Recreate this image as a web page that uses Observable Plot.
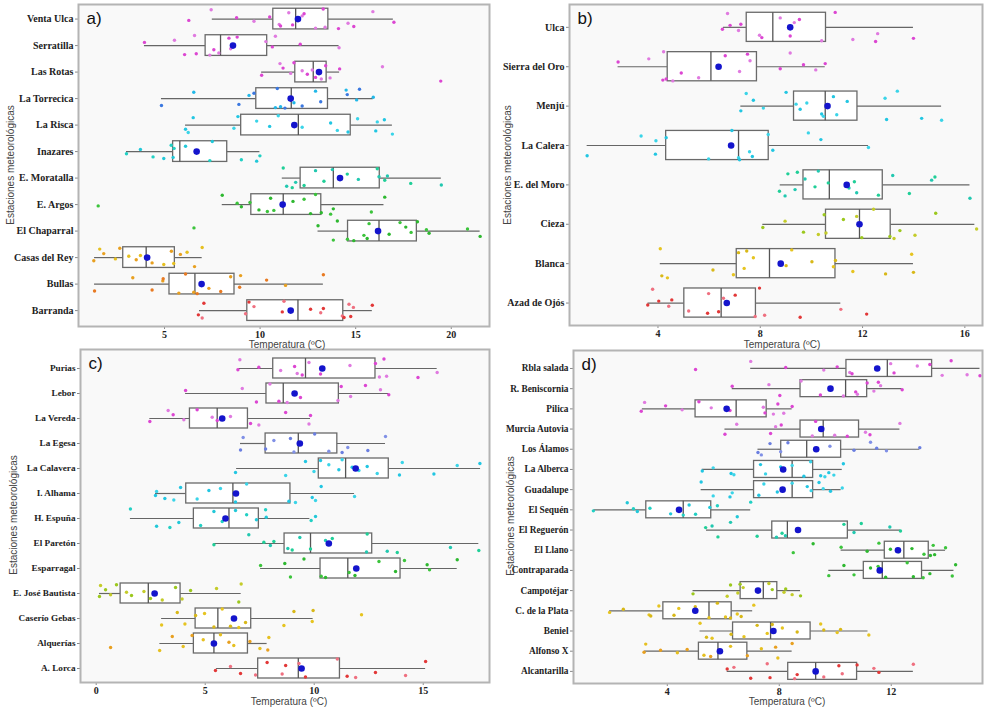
<!DOCTYPE html>
<html>
<head>
<meta charset="utf-8">
<script src="https://cdn.jsdelivr.net/npm/d3@7"></script>
<script src="https://cdn.jsdelivr.net/npm/@observablehq/plot@0.6"></script>
<style>
  html, body { margin: 0; padding: 0; background: #fff; }
  #wrap { position: relative; width: 985px; height: 709px; overflow: hidden; background: #fff; }
  .pnl { position: absolute; }
  .xt { position: absolute; font-family: "Liberation Sans", Arial, sans-serif; font-size: 10px; line-height: 10px; color: #444; transform: translate(-50%, -50%); white-space: nowrap; }
  .yt { position: absolute; font-family: "Liberation Sans", Arial, sans-serif; font-size: 10px; color: #444; transform: translate(-50%, -50%) rotate(-90deg); white-space: nowrap; }
</style>
</head>
<body>
<div id="wrap"></div>
<script>
// ---------------- DATA ----------------
// Panel a
const stationsA = ["Venta Ulca","Serratilla","Las Rotas","La Torrecica","La Risca","Inazares","E. Moratalla","E. Argos","El Chaparral","Casas del Rey","Bullas","Barranda"];
const loA   = [7.5,3.95,10.08,4.84,6.1,3.01,11.16,8.02,13.03,1.34,1.34,6.83];
const q1A   = [10.69,7.15,11.84,9.8,9.01,5.45,12.12,9.54,14.6,2.84,5.26,9.33];
const medA  = [11.86,7.93,12.78,11.63,12.0,5.8,13.83,11.21,16.22,4.04,6.59,11.98];
const q3A   = [13.57,10.37,13.48,13.55,14.74,8.28,16.26,13.2,18.2,5.54,8.66,14.35];
const hiA   = [16.97,14.13,14.16,15.92,16.92,9.99,19.48,16.48,21.51,6.97,13.31,15.87];
const meanA = [11.98,8.58,13.08,11.6,11.79,6.68,14.18,11.18,16.17,4.09,6.94,11.6];
const pointsA = [
  [6.27,7.44,8.77,9.68,10.5,11.0,11.07,11.5,11.7,12.2,12.3,12.9,13.3,13.4,14.1,14.6,14.9,15.9,17.0],
  [3.95,5.52,6.05,6.57,6.66,7.37,7.58,7.84,8.37,8.46,8.8,10.3,10.64,10.8,12.1,14.13],
  [10.08,11.04,11.2,11.6,11.77,12.2,12.47,12.73,12.9,13.2,13.43,13.66,14.16,16.4,19.45],
  [4.84,6.53,8.89,9.42,9.68,10.8,10.9,11.07,11.3,11.77,12.2,12.9,13.17,14.5,14.56,15.05,15.2,15.92],
  [6.1,6.24,6.5,8.63,8.84,9.82,10.5,10.95,11.77,12.2,13.69,14.04,14.6,15.1,16.05,16.13,16.5,16.92],
  [3.01,3.74,4.4,4.96,5.35,5.45,5.5,6.1,7.37,7.5,9.02,9.82,9.99],
  [11.21,11.39,11.68,11.86,12.3,12.9,13.34,13.78,14.56,15.14,16.13,16.22,16.52,16.66,17.88,19.48],
  [1.53,8.02,8.8,9.02,9.47,9.94,10.38,10.55,10.72,11.72,12.3,12.64,12.9,13.2,13.69,13.83,15.82,16.52],
  [6.54,13.03,13.83,14.04,14.57,14.9,15.43,15.6,15.7,16.75,17.32,17.62,17.9,18.23,18.7,18.84,20.85,21.51],
  [1.3,1.61,1.82,2.43,2.66,3.13,3.52,3.74,4.35,4.96,5.36,5.48,5.83,6.18,6.57,6.97],
  [1.34,3.34,4.35,4.91,4.93,5.75,6.1,6.53,6.71,7.32,7.94,8.46,8.93,8.98,10.34,11.33,13.31],
  [6.77,6.97,7.06,9.24,9.42,9.68,11.16,11.25,12.64,13.17,13.31,14.3,14.39,14.65,14.74,14.88,15.87]
];
const ticksA = [5,10,15,20];

// Panel b
const stationsB = ["Ulca","Sierra del Oro","Menjú","La Calera","E. del Moro","Cieza","Blanca","Azad de Ojós"];
const loB   = [6.56,2.44,7.24,1.23,8.78,8.1,4.09,3.61];
const q1B   = [7.47,4.38,9.32,4.32,9.69,10.57,7.08,5.03];
const medB  = [8.49,6.07,10.54,7.15,10.7,11.88,8.36,6.47];
const q3B   = [10.57,7.87,11.8,8.33,12.79,13.1,10.94,7.83];
const hiB   = [13.99,10.54,15.09,12.23,16.2,16.39,13.99,11.15];
const meanB = [9.17,6.37,10.63,6.86,11.38,11.88,8.8,6.69];
const pointsB = [
  [6.52,6.72,6.82,7.15,7.24,7.97,8.06,8.78,9.17,9.33,9.53,10.4,10.93,11.62,12.51,12.59,13.99],
  [2.44,3.64,4.19,4.22,4.32,4.58,4.91,5.59,6.63,7.19,7.5,7.6,8.78,9.17,9.69,10.17,10.54],
  [7.24,7.45,7.73,8.12,9.01,9.4,9.56,9.82,10.4,10.47,10.86,10.99,11.4,12.88,12.94,13.36,14.31,15.09],
  [1.23,3.34,3.9,3.92,4.32,5.98,6.89,7.15,7.19,7.58,7.69,8.31,8.49,9.88,10.37,12.23],
  [8.75,8.97,9.08,9.36,9.45,9.75,10.14,10.27,10.66,11.47,11.68,11.77,12.62,13.18,13.83,14.7,14.83,16.2],
  [8.1,8.97,9.69,10.27,10.5,10.57,11.25,11.77,11.97,12.43,13.07,13.23,13.46,14.05,14.86,16.46],
  [4.09,4.15,4.37,6.15,6.95,7.15,7.37,7.47,7.73,9.01,9.23,10.02,10.86,10.94,11.62,12.9,13.92,13.99],
  [3.6,3.79,4.03,4.42,4.54,5.2,5.94,5.98,6.37,6.56,7.02,7.8,7.97,8.17,9.56,11.15,12.16]
];
const ticksB = [4,8,12,16];

// Panel c
const stationsC = ["Purias","Lebor","La Vereda","La Egesa","La Calavera","I. Alhama","H. Espuña","El Paretón","Esparragal","E. José Bautista","Caserío Gebas","Alquerías","A. Lorca"];
const loC   = [6.54,4.1,2.46,6.62,6.44,2.72,1.57,5.4,7.54,0.15,3.0,2.92,5.52];
const q1C   = [8.12,7.81,4.3,7.77,10.21,4.13,4.48,8.64,10.29,1.12,4.56,4.48,7.43];
const medC  = [9.6,8.58,5.55,9.27,11.44,6.27,6.09,9.83,11.54,2.39,5.58,5.4,9.27];
const q3C   = [12.81,11.13,6.96,11.06,13.42,8.91,7.46,12.66,13.96,3.87,7.11,6.96,11.18];
const hiC   = [15.64,13.42,9.83,13.27,17.63,11.85,9.8,17.55,16.56,6.65,9.95,7.84,15.11];
const meanC = [10.37,9.1,5.78,9.34,11.9,6.41,5.93,10.67,11.93,2.68,6.32,5.4,9.42];
const pointsC = [
  [6.5,6.59,7.46,8.46,9.1,9.22,9.45,9.76,10.29,11.64,12.81,12.99,13.2,13.32,14.76,15.64],
  [4.1,6.7,7.35,7.97,8.38,8.76,9.37,11.09,11.24,11.67,12.35,13.04,13.42],
  [2.46,3.3,3.53,4.02,4.63,5.32,5.55,6.16,7.08,7.46,8.69,9.76,9.83],
  [6.62,6.74,7.77,8.15,8.91,9.07,10.02,10.67,11.28,11.54,12.46,13.27],
  [6.39,8.69,9.6,9.99,10.29,10.67,11.13,11.28,11.74,12.05,12.43,12.89,13.91,14.04,15.49,16.56,17.6],
  [2.72,2.77,3.15,3.56,3.87,4.63,5.17,5.7,6.39,6.9,8.84,9.14,9.91,10.06,10.32,11.85],
  [1.57,2.77,3.38,3.79,4.79,5.4,5.78,6.39,6.9,7.35,7.77,7.8,9.86,10.06],
  [5.4,7.0,7.69,7.99,8.15,8.79,8.99,9.34,9.83,10.52,10.83,12.4,12.43,13.35,13.81,16.25,17.55],
  [7.54,8.65,8.91,9.53,10.32,10.52,11.6,11.87,12.97,13.73,14.14,15.18,15.29,16.56],
  [0.15,0.2,0.43,0.66,0.93,1.39,1.62,2.19,2.49,3.03,3.64,3.94,4.33,5.52,6.54,6.65],
  [3.0,3.72,4.07,4.56,4.97,5.4,5.78,6.16,6.54,6.85,8.61,9.07,9.91,9.95,12.17],
  [0.66,2.91,3.49,3.99,4.4,4.91,5.4,5.7,6.09,6.31,7.05,7.51,7.87,7.92],
  [5.47,6.16,6.62,7.31,7.84,8.53,8.69,9.3,9.6,11.06,11.51,11.9,12.81,14.19,15.11]
];
const ticksC = [0,5,10,15];

// Panel d
const stationsD = ["Rbla salada","R. Beniscornia","Pilica","Murcia Autovia","Los Álamos","La Alberca","Guadalupe","El Sequén","El Reguerón","El Llano","Contraparada","Campotéjar","C. de la Plata","Beniel","Alfonso X","Alcantarilla"];
const loD   = [6.98,6.32,3.11,6.06,7.24,5.25,5.21,1.38,5.4,10.21,9.77,4.92,1.94,5.17,3.19,6.14];
const q1D   = [10.4,8.76,5.01,8.76,8.07,7.1,7.1,3.25,7.75,11.77,11.02,6.62,3.86,6.35,5.13,8.32];
const medD  = [11.86,10.37,6.46,9.57,8.98,8.46,8.46,4.57,8.29,12.45,11.68,7.43,5.49,7.69,5.81,9.3];
const q3D   = [13.46,11.14,7.55,10.85,10.21,9.21,9.21,5.57,10.45,13.34,13.1,7.93,6.3,9.12,6.86,10.78];
const hiD   = [15.17,12.39,8.46,12.31,13.02,10.25,10.21,6.98,12.33,13.94,14.24,8.76,7.05,11.17,8.46,12.79];
const meanD = [11.5,9.83,6.12,9.5,9.32,8.14,8.12,4.42,8.67,12.24,11.59,7.24,5.0,7.79,5.88,9.3];
const pointsD = [
  [5.01,6.98,8.23,9.59,10.07,10.52,10.6,11.98,12.1,12.93,13.38,13.82,14.14,14.71,15.17],
  [6.32,7.63,8.02,8.78,9.47,10.29,10.73,10.79,11.14,11.38,11.54,11.62,12.39],
  [3.07,3.19,3.94,4.53,5.13,5.57,6.24,7.43,7.49,7.79,7.95,8.16,8.46],
  [6.06,6.48,7.69,7.87,8.07,9.18,9.3,9.98,10.43,11.08,11.24,12.31],
  [7.24,7.36,7.67,8.05,8.31,9.81,10.67,11.26,11.48,11.83,13.02],
  [5.25,5.64,6.28,6.38,7.33,7.51,8.05,8.46,8.88,9.12,9.48,9.63,9.77,9.95,10.29],
  [5.21,5.64,6.24,6.32,7.27,7.45,7.93,8.46,9.0,9.14,9.42,9.57,9.83,10.25],
  [1.36,2.57,2.79,2.93,3.38,4.12,4.57,4.78,5.01,5.52,5.79,6.5,6.98],
  [5.37,5.6,5.81,6.26,7.21,7.9,8.1,8.22,10.31,10.67,10.93,11.95,12.33],
  [8.5,9.21,10.21,11.14,11.56,11.97,12.27,12.74,13.17,13.4,13.5,13.55,13.94],
  [9.77,10.31,10.67,11.26,11.53,11.8,12.57,12.79,13.14,13.38,14.18,14.3],
  [4.92,6.14,6.26,6.52,6.6,6.71,7.27,7.63,7.75,8.17,8.23,8.46,8.76],
  [1.94,2.43,3.35,3.41,3.7,4.24,4.41,5.0,5.49,5.79,6.08,6.26,6.5,6.64,7.09],
  [5.17,5.4,5.6,6.28,6.74,7.21,7.57,7.75,8.11,8.64,9.48,9.59,10.07,10.19,11.2],
  [3.17,3.23,3.76,4.36,4.71,5.31,5.55,6.26,6.86,7.36,7.87,7.95,8.46],
  [6.14,6.38,6.98,7.57,7.67,8.55,8.64,9.59,10.13,10.25,10.78,11.38,11.56,12.79]
];
const ticksD = [4,8,12];

// ---------------- STYLE ----------------
const MAG = ["#dc46d2","#e07ae0"], BLU = ["#3b78e0","#22b8e8"], CYA = ["#22c6e2","#3ad4e8"],
      TEA = ["#22d0c4","#22c8d8"], TGR = ["#20cf98","#22c8b0"], GRN = ["#3cc43c","#2eb830"],
      YGR = ["#9cc81e","#c4cc2a"], YEL = ["#e6c420","#d8b818"], ORA = ["#e8a020","#e6c020"],
      ORR = ["#e87a22","#e8a020"], RED = ["#e23838","#ef7080"], PRP = ["#6a7ee0","#8090e6"];
const colorsA = [MAG,MAG,MAG,BLU,CYA,TEA,TGR,GRN,GRN,ORA,ORR,RED];
const colorsB = [MAG,MAG,CYA,CYA,TGR,YGR,YEL,RED];
const colorsC = [MAG,MAG,MAG,PRP,CYA,CYA,TEA,TGR,GRN,YGR,YEL,ORA,RED];
const colorsD = [MAG,MAG,MAG,MAG,PRP,CYA,CYA,TEA,TGR,GRN,GRN,YGR,YEL,YEL,ORA,RED];
const JIT = [0.05,-0.28,0.31,-0.12,0.2,-0.35,0.12,0.36,-0.2,0.26,-0.05,-0.32,0.16,0.34,-0.24,0.08,-0.15,0.28,-0.38,0.22,-0.08];

function panel(o) {
  const n = o.names.length;
  const rows = o.names.map((name, i) => ({i, name, lo: o.lo[i], q1: o.q1[i], med: o.med[i], q3: o.q3[i], hi: o.hi[i], mean: o.mean[i]}));
  const pts = o.pts.flatMap((arr, i) => arr.map((v, j) => ({
    v, y: i + JIT[(j * 5 + i * 3) % JIT.length], c: o.colors[i][j % 2]
  })));
  const h = o.half;
  return Plot.plot({
    width: o.width, height: o.height,
    marginTop: o.m[0], marginRight: o.m[1], marginBottom: o.m[2], marginLeft: o.m[3],
    x: {domain: o.xDomain},
    y: {domain: [n - 1 + o.padB, -o.padT]},
    color: {type: "identity"},
    style: {fontFamily: "'Liberation Serif', 'Times New Roman', serif", fontWeight: "bold", fontSize: o.fs + "px", color: "#222", background: "transparent", overflow: "visible"},
    marks: [
      Plot.frame({fill: "#f9f9f9", stroke: null}),
      Plot.ruleY(rows, {y: "i", x1: "lo", x2: "q1", stroke: "#666", strokeWidth: 1.2}),
      Plot.ruleY(rows, {y: "i", x1: "q3", x2: "hi", stroke: "#666", strokeWidth: 1.2}),
      Plot.rect(rows, {x1: "q1", x2: "q3", y1: d => d.i - h, y2: d => d.i + h, fill: "white", stroke: "#6a6a6a", strokeWidth: 1.3}),
      Plot.ruleX(rows, {x: "med", y1: d => d.i - h, y2: d => d.i + h, stroke: "#555", strokeWidth: 1.3}),
      Plot.dot(pts, {x: "v", y: "y", r: 1.7, fill: "c", stroke: null}),
      Plot.dot(rows, {x: "mean", y: "i", r: 3.3, fill: "#1414cc", stroke: null}),
      Plot.axisX({ticks: o.xTicks, tickSize: 3, tickPadding: 1, label: null, stroke: "#888", fontSize: 10, tickFormat: d => String(d)}),
      Plot.axisY({ticks: rows.map(d => d.i), tickFormat: i => o.names[i], tickSize: 3, tickPadding: 2, label: null, stroke: "#888", fontSize: o.fs}),
      Plot.frame({stroke: "#b4b4b4", strokeWidth: 2}),
      Plot.text([o.letter], {frameAnchor: "top-left", dx: 8, dy: 7, lineAnchor: "top", textAnchor: "start", fontSize: 17, fontFamily: "'Liberation Sans', Arial, sans-serif", fontWeight: "normal", fill: "#111", text: d => d})
    ]
  });
}

const wrap = document.getElementById("wrap");
function place(node, left, top) {
  node.classList.add("pnl");
  node.style.left = left + "px";
  node.style.top = top + "px";
  wrap.appendChild(node);
}
function label(cls, text, x, y) {
  const d = document.createElement("div");
  d.className = cls; d.textContent = text;
  d.style.left = x + "px"; d.style.top = y + "px";
  wrap.appendChild(d);
}

place(panel({names: stationsA, lo: loA, q1: q1A, med: medA, q3: q3A, hi: hiA, mean: meanA, pts: pointsA, colors: colorsA,
  xDomain: [0.5, 22.0], xTicks: ticksA, padT: 0.55, padB: 0.6, half: 0.39, width: 490, height: 349, m: [4, 1, 23, 78], fs: 10, letter: "a)"}), 0, 0);
place(panel({names: stationsB, lo: loB, q1: q1B, med: medB, q3: q3B, hi: hiB, mean: meanB, pts: pointsB, colors: colorsB,
  xDomain: [0.54, 16.69], xTicks: ticksB, padT: 0.58, padB: 0.57, half: 0.37, width: 495, height: 349, m: [4, 3, 24, 79], fs: 10, letter: "b)"}), 490, 0);
place(panel({names: stationsC, lo: loC, q1: q1C, med: medC, q3: q3C, hi: hiC, mean: meanC, pts: pointsC, colors: colorsC,
  xDomain: [-0.72, 18.04], xTicks: ticksC, padT: 0.76, padB: 0.56, half: 0.4, width: 490, height: 362, m: [2, 1, 27, 80], fs: 9.2, letter: "c)"}), 0, 347);
place(panel({names: stationsD, lo: loD, q1: q1D, med: medD, q3: q3D, hi: hiD, mean: meanD, pts: pointsD, colors: colorsD,
  xDomain: [0.65, 15.26], xTicks: ticksD, padT: 0.89, padB: 0.6, half: 0.42, width: 495, height: 362, m: [3, 3, 26, 83], fs: 9.3, letter: "d)"}), 490, 347);

label("xt", "Temperatura (ºC)", 287, 345);
label("xt", "Temperatura (ºC)", 782, 345);
label("xt", "Temperatura (ºC)", 289, 702);
label("xt", "Temperatura (ºC)", 787, 702);
label("yt", "Estaciones meteorológicas", 10, 165);
label("yt", "Estaciones meteorológicas", 507, 165);
label("yt", "Estaciones meteorológicas", 13, 515);
label("yt", "Estaciones meteorológicas", 510, 516);
</script>
</body>
</html>
